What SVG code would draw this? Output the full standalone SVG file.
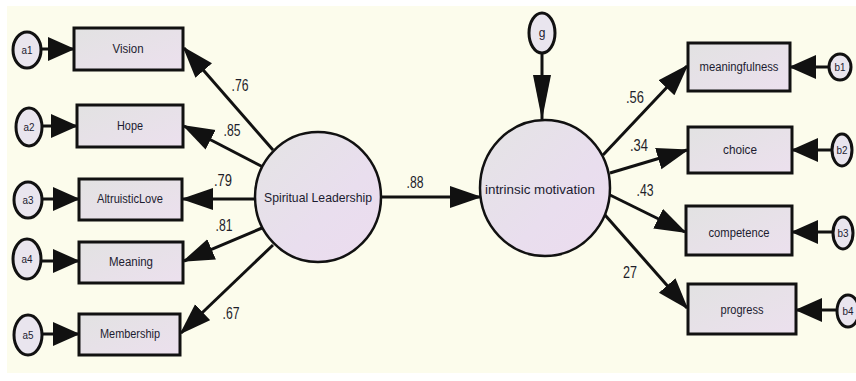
<svg xmlns="http://www.w3.org/2000/svg" width="856" height="381" viewBox="0 0 856 381">
<style>
.box{stroke:#111;stroke-width:3;fill:url(#gbox)}
.lat{stroke:#111;stroke-width:2.5;fill:url(#gell)}
.err{stroke:#111;stroke-width:3;fill:#e9e5ee}
.lbl{font-family:"Liberation Sans",Arial,sans-serif;font-size:12px;fill:#1c1c30;text-anchor:middle}
.big{font-family:"Liberation Sans",Arial,sans-serif;font-size:13px;fill:#1c1c30;text-anchor:middle}
.num{font-family:"Liberation Sans",Arial,sans-serif;font-size:17px;fill:#1e1e2a;text-anchor:middle}
.sm{font-family:"Liberation Sans",Arial,sans-serif;font-size:11px;fill:#1c1c30;text-anchor:middle}
.ln{stroke:#111;stroke-width:3;fill:none}
</style>
<defs>
<linearGradient id="gbox" x1="0" y1="0" x2="1" y2="1">
<stop offset="0" stop-color="#e2e2e2"/><stop offset="1" stop-color="#ece0ee"/>
</linearGradient>
<linearGradient id="gell" x1="0" y1="0" x2="1" y2="1">
<stop offset="0" stop-color="#e4e4e4"/><stop offset="0.6" stop-color="#e9deee"/><stop offset="1" stop-color="#ecdcef"/>
</linearGradient>
<marker id="arr" markerUnits="userSpaceOnUse" markerWidth="32" markerHeight="24" refX="30" refY="11" orient="auto">
<path d="M0,0 L32,11 L0,22 z" fill="#111"/>
</marker>
<marker id="earr" markerUnits="userSpaceOnUse" markerWidth="28" markerHeight="26" refX="26" refY="12" orient="auto">
<path d="M0,0 L27,12 L0,24 z" fill="#111"/>
</marker>
<marker id="garr" markerUnits="userSpaceOnUse" markerWidth="46" markerHeight="20" refX="44" refY="9" orient="auto">
<path d="M0,0 L45,9 L0,18 z" fill="#111"/>
</marker>
</defs>
<rect x="0" y="0" width="856" height="381" fill="#ffffff"/>
<rect x="7" y="6" width="849" height="367" fill="#fcfcec"/>

<g id="connectors">
<line class="ln" x1="273" y1="150" x2="184" y2="48" marker-end="url(#arr)"/>
<line class="ln" x1="263" y1="167" x2="184" y2="126" marker-end="url(#arr)"/>
<line class="ln" x1="255" y1="199" x2="183" y2="199" marker-end="url(#arr)"/>
<line class="ln" x1="262" y1="228" x2="184" y2="261" marker-end="url(#arr)"/>
<line class="ln" x1="273" y1="245" x2="181" y2="333" marker-end="url(#arr)"/>
<line class="ln" x1="382" y1="197" x2="480" y2="197" marker-end="url(#arr)"/>
<line class="ln" x1="542" y1="53" x2="542" y2="119" marker-end="url(#garr)"/>
<line class="ln" x1="603" y1="155" x2="687" y2="66" marker-end="url(#arr)"/>
<line class="ln" x1="610" y1="173" x2="687" y2="150" marker-end="url(#arr)"/>
<line class="ln" x1="610" y1="195" x2="685" y2="232" marker-end="url(#arr)"/>
<line class="ln" x1="605" y1="215" x2="687" y2="308" marker-end="url(#arr)"/>
<line class="ln" x1="41" y1="49" x2="74" y2="49" marker-end="url(#earr)"/>
<line class="ln" x1="43" y1="126" x2="77" y2="126" marker-end="url(#earr)"/>
<line class="ln" x1="42" y1="199" x2="79" y2="199" marker-end="url(#earr)"/>
<line class="ln" x1="41" y1="261" x2="79" y2="261" marker-end="url(#earr)"/>
<line class="ln" x1="42" y1="334" x2="79" y2="334" marker-end="url(#earr)"/>
<line class="ln" x1="829" y1="67" x2="790" y2="67" marker-end="url(#earr)"/>
<line class="ln" x1="832" y1="150" x2="792" y2="150" marker-end="url(#earr)"/>
<line class="ln" x1="833" y1="232" x2="792" y2="232" marker-end="url(#earr)"/>
<line class="ln" x1="837" y1="310" x2="796" y2="310" marker-end="url(#earr)"/>
</g>

<g id="labels">
<text class="num" x="240" y="91" textLength="17" lengthAdjust="spacingAndGlyphs">.76</text>
<text class="num" x="232" y="136" textLength="17" lengthAdjust="spacingAndGlyphs">.85</text>
<text class="num" x="223" y="186" textLength="18" lengthAdjust="spacingAndGlyphs">.79</text>
<text class="num" x="224" y="231" textLength="17" lengthAdjust="spacingAndGlyphs">.81</text>
<text class="num" x="231" y="319" textLength="17" lengthAdjust="spacingAndGlyphs">.67</text>
<text class="num" x="415" y="188" textLength="17" lengthAdjust="spacingAndGlyphs">.88</text>
<text class="num" x="635" y="103" textLength="18" lengthAdjust="spacingAndGlyphs">.56</text>
<text class="num" x="639" y="151" textLength="18" lengthAdjust="spacingAndGlyphs">.34</text>
<text class="num" x="645" y="196" textLength="17" lengthAdjust="spacingAndGlyphs">.43</text>
<text class="num" x="630" y="278" textLength="14" lengthAdjust="spacingAndGlyphs">27</text>
</g>

<g id="a1"><ellipse class="err" cx="27" cy="50" rx="14" ry="18"/><text class="sm" x="27" y="54" textLength="11" lengthAdjust="spacingAndGlyphs">a1</text></g>
<g id="a2"><ellipse class="err" cx="29" cy="127" rx="13" ry="19"/><text class="sm" x="29" y="131" textLength="11" lengthAdjust="spacingAndGlyphs">a2</text></g>
<g id="a3"><ellipse class="err" cx="28" cy="200" rx="14" ry="18"/><text class="sm" x="28" y="204" textLength="11" lengthAdjust="spacingAndGlyphs">a3</text></g>
<g id="a4"><ellipse class="err" cx="27" cy="259" rx="14" ry="20"/><text class="sm" x="27" y="263" textLength="11" lengthAdjust="spacingAndGlyphs">a4</text></g>
<g id="a5"><ellipse class="err" cx="28" cy="335" rx="14" ry="20"/><text class="sm" x="28" y="339" textLength="11" lengthAdjust="spacingAndGlyphs">a5</text></g>

<g id="Vision"><rect class="box" x="74" y="28" width="109" height="42"/><text class="lbl" x="128" y="53" textLength="31" lengthAdjust="spacingAndGlyphs">Vision</text></g>
<g id="Hope"><rect class="box" x="77" y="105" width="106" height="42"/><text class="lbl" x="130" y="130" textLength="26" lengthAdjust="spacingAndGlyphs">Hope</text></g>
<g id="AltruisticLove"><rect class="box" x="79" y="179" width="103" height="41"/><text class="lbl" x="130" y="203" textLength="66" lengthAdjust="spacingAndGlyphs">AltruisticLove</text></g>
<g id="Meaning"><rect class="box" x="79" y="242" width="104" height="41"/><text class="lbl" x="131" y="266" textLength="44" lengthAdjust="spacingAndGlyphs">Meaning</text></g>
<g id="Membership"><rect class="box" x="79" y="314" width="101" height="41"/><text class="lbl" x="130" y="338" textLength="60" lengthAdjust="spacingAndGlyphs">Membership</text></g>

<g id="SpiritualLeadership"><ellipse class="lat" cx="318" cy="197" rx="63" ry="65"/><text class="big" x="318" y="202" textLength="108" lengthAdjust="spacingAndGlyphs">Spiritual Leadership</text></g>
<g id="IntrinsicMotivation"><ellipse class="lat" cx="545" cy="188" rx="65" ry="68"/><text class="big" x="540" y="194" textLength="110" lengthAdjust="spacingAndGlyphs">intrinsic motivation</text></g>
<g id="g"><ellipse class="err" cx="542" cy="33" rx="13" ry="20"/><text class="lbl" x="542" y="37">g</text></g>

<g id="meaningfulness"><rect class="box" x="688" y="43" width="102" height="48"/><text class="lbl" x="739" y="71" textLength="79" lengthAdjust="spacingAndGlyphs">meaningfulness</text></g>
<g id="choice"><rect class="box" x="688" y="127" width="104" height="46"/><text class="lbl" x="740" y="154" textLength="34" lengthAdjust="spacingAndGlyphs">choice</text></g>
<g id="competence"><rect class="box" x="686" y="206" width="106" height="49"/><text class="lbl" x="739" y="237" textLength="61" lengthAdjust="spacingAndGlyphs">competence</text></g>
<g id="progress"><rect class="box" x="688" y="284" width="108" height="50"/><text class="lbl" x="742" y="314" textLength="43" lengthAdjust="spacingAndGlyphs">progress</text></g>

<g id="b1"><ellipse class="err" cx="840" cy="67" rx="11" ry="13"/><text class="sm" x="840" y="71" textLength="11" lengthAdjust="spacingAndGlyphs">b1</text></g>
<g id="b2"><ellipse class="err" cx="842" cy="150" rx="10" ry="16"/><text class="sm" x="842" y="154" textLength="11" lengthAdjust="spacingAndGlyphs">b2</text></g>
<g id="b3"><ellipse class="err" cx="843" cy="233" rx="10" ry="16"/><text class="sm" x="843" y="237" textLength="11" lengthAdjust="spacingAndGlyphs">b3</text></g>
<g id="b4"><ellipse class="err" cx="848" cy="311" rx="11" ry="16"/><text class="sm" x="848" y="315" textLength="11" lengthAdjust="spacingAndGlyphs">b4</text></g>
</svg>
